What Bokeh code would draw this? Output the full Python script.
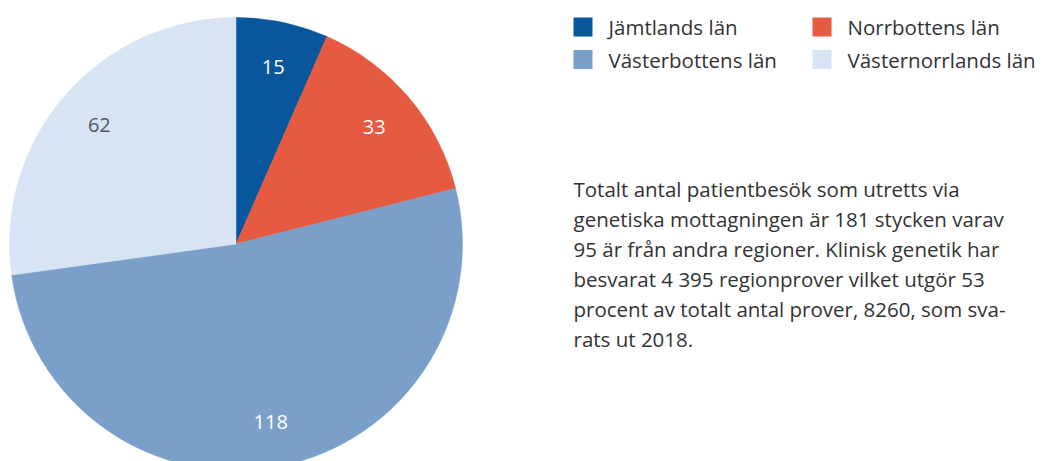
import math
from bokeh.plotting import figure
from bokeh.models import Range1d, ColumnDataSource
from bokeh.core.properties import value
from bokeh.embed import file_html
from bokeh.resources import INLINE

# ---- data ----
regions = ["Jämtlands län", "Norrbottens län", "Västerbottens län", "Västernorrlands län"]
visits = [15, 33, 118, 62]
colors = ["#08579d", "#e55a40", "#7aa0ca", "#d7e4f3"]
label_colors = ["#ffffff", "#ffffff", "#ffffff", "#555555"]
paragraph = [
    "Totalt antal patientbesök som utretts via",
    "genetiska mottagningen är 181 stycken varav",
    "95 är från andra regioner. Klinisk genetik har",
    "besvarat 4 395 regionprover vilket utgör 53",
    "procent av totalt antal prover, 8260, som sva-",
    "rats ut 2018.",
]

W, H = 1042, 461
FONT = "Open Sans"
TXT = "#333333"

def sx(x):
    return x

def sy(y):
    return H - y

p = figure(width=W, height=H, output_backend="svg", toolbar_location=None,
           x_range=Range1d(0, W), y_range=Range1d(0, H), min_border=0)
p.axis.visible = False
p.grid.visible = False
p.outline_line_color = None
p.background_fill_color = "white"
p.border_fill_color = "white"

# pie
cx, cy, R = sx(235.5), sy(243.5), 226.5
total = sum(visits)
starts, ends, lx, ly = [], [], [], []
cum = 0
for v in visits:
    a0 = math.pi / 2 - cum / total * 2 * math.pi
    cum += v
    a1 = math.pi / 2 - cum / total * 2 * math.pi
    starts.append(a0)
    ends.append(a1)
    mid = (a0 + a1) / 2
    lx.append(cx + 0.8 * R * math.cos(mid))
    ly.append(cy + 0.8 * R * math.sin(mid))

src = ColumnDataSource(dict(start=starts, end=ends, color=colors, lx=lx, ly=ly,
                            lab=[str(v) for v in visits], lc=label_colors))
p.wedge(x=cx, y=cy, radius=R, start_angle="start", end_angle="end",
        direction="clock", fill_color="color", line_color="color", line_width=0.5,
        source=src)
p.text(x="lx", y="ly", text="lab", text_color="lc", text_font=value(FONT),
       text_font_size="20px", text_align="center", text_baseline="middle", source=src)

# legend (2 columns x 2 rows)
col_x = [573, 812]
row_y = [26.5, 59]
for i, (name, c) in enumerate(zip(regions, colors)):
    r, col = divmod(i, 2)
    x0 = col_x[col]
    y0 = row_y[r]
    p.rect(x=sx(x0 + 9.5), y=sy(y0), width=19, height=19, fill_color=c, line_color=None)
    p.text(x=[sx(x0 + 35)], y=[sy(y0)], text=[name], text_color=TXT,
           text_font=value(FONT), text_font_size="20.5px",
           text_align="left", text_baseline="middle")

# paragraph
for k, line in enumerate(paragraph):
    p.text(x=[sx(573)], y=[sy(188 + 30 * k)], text=[line], text_color=TXT,
           text_font=value(FONT), text_font_size="20.5px",
           text_align="left", text_baseline="middle")

open("out.html", "w").write(file_html(p, INLINE))
